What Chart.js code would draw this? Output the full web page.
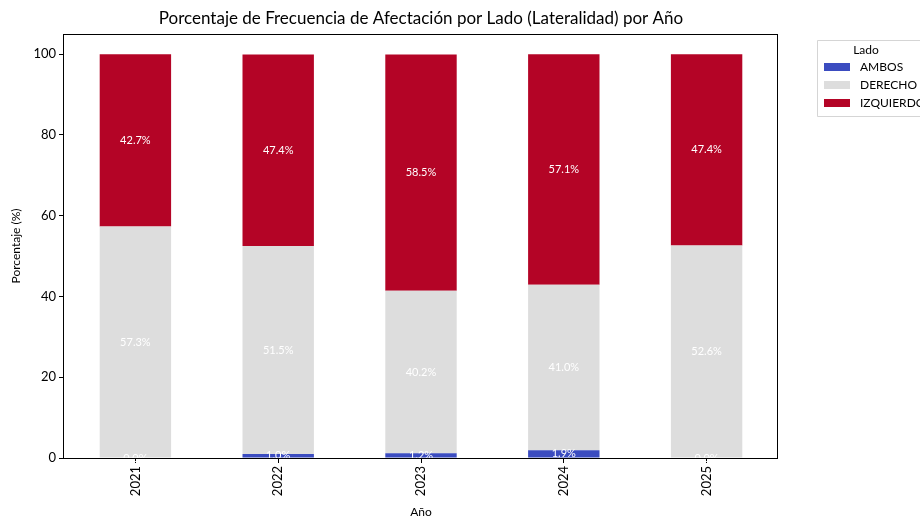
<!doctype html>
<html>
<head>
<meta charset="utf-8">
<script src="https://cdn.jsdelivr.net/npm/chart.js"></script>
<style>
html, body { margin: 0; padding: 0; background: #fff; }
#wrap { width: 920px; height: 521px; position: relative; }
</style>
</head>
<body>
<div id="wrap"><canvas id="myChart" width="920" height="521"></canvas></div>
<script>
	// datos
	var years = ['2021', '2022', '2023', '2024', '2025'];
	var ambos = [0.0, 1.0, 1.2, 1.9, 0.0];
	var derecho = [57.3, 51.5, 40.2, 41.0, 52.6];
	var izquierdo = [42.7, 47.4, 58.5, 57.1, 47.4];
	var yTicks = [0, 20, 40, 60, 80, 100];

	var FONT = "Lato, 'DejaVu Sans', sans-serif";

	// etiquetas de porcentaje en el centro de cada segmento
	var segLabels = {
		id: 'segLabels',
		afterDatasetsDraw: function (chart) {
			var c = chart.ctx;
			c.save();
			c.fillStyle = '#ffffff';
			c.font = '11px ' + FONT;
			c.textAlign = 'center';
			c.textBaseline = 'middle';
			chart.data.datasets.forEach(function (ds, i) {
				var meta = chart.getDatasetMeta(i);
				meta.data.forEach(function (bar, j) {
					var p = bar.getProps(['x', 'y', 'base'], true);
					c.fillText(ds.data[j].toFixed(1) + '%', p.x, (p.y + p.base) / 2);
				});
			});
			c.restore();
		}
	};

	// marco, titulo y leyenda estilo matplotlib
	var frame = {
		id: 'frame',
		afterDraw: function (chart) {
			var c = chart.ctx, a = chart.chartArea;
			c.save();
			c.strokeStyle = '#000';
			c.lineWidth = 1;
			c.strokeRect(Math.round(a.left) - 0.5, Math.round(a.top) + 0.5, Math.round(a.right - a.left), Math.round(a.bottom - a.top));

			c.fillStyle = '#000';
			c.font = '17px ' + FONT;
			c.textAlign = 'center';
			c.textBaseline = 'middle';
			c.fillText('Porcentaje de Frecuencia de Afectación por Lado (Lateralidad) por Año', (a.left + a.right) / 2, 19);

			// leyenda
			var lx = 817, ly = 40;
			c.fillStyle = '#fff';
			c.strokeStyle = '#d5d5d5';
			c.beginPath();
			c.rect(lx + 0.5, ly + 0.5, 140, 76);
			c.fill();
			c.stroke();
			c.fillStyle = '#000';
			c.font = '12px ' + FONT;
			c.textAlign = 'center';
			c.fillText('Lado', 866, 50);
			c.textAlign = 'left';
			chart.data.datasets.forEach(function (ds, i) {
				var yy = 67 + i * 18;
				c.fillStyle = ds.backgroundColor;
				c.fillRect(824, yy - 4, 26, 8);
				c.fillStyle = '#000';
				c.fillText(ds.label, 860, yy);
			});
			c.restore();
		}
	};

	new Chart(document.getElementById('myChart'), {
		type: 'bar',
		data: {
			labels: years,
			datasets: [
				{ label: 'AMBOS', data: ambos, backgroundColor: '#3b4cc0' },
				{ label: 'DERECHO', data: derecho, backgroundColor: '#dddddd' },
				{ label: 'IZQUIERDO', data: izquierdo, backgroundColor: '#b40426' }
			]
		},
		options: {
			responsive: false,
			animation: false,
			datasets: { bar: { categoryPercentage: 1.0, barPercentage: 0.5 } },
			layout: { padding: { top: 34, right: 142, left: 0, bottom: 0 } },
			plugins: {
				legend: { display: false },
				title: { display: false },
				tooltip: { enabled: false }
			},
			scales: {
				x: {
					stacked: true,
					grid: { offset: false, drawOnChartArea: false, drawTicks: true, tickLength: 5, color: '#000' },
					border: { display: false },
					ticks: { color: '#000', font: { family: FONT, size: 13 }, maxRotation: 90, minRotation: 90, padding: 3 },
					title: { display: true, text: 'Año', color: '#000', font: { family: FONT, size: 12 }, padding: { top: 0, bottom: 2 } },
					afterFit: function (s) { s.height = 63; }
				},
				y: {
					stacked: true,
					min: 0,
					max: 105,
					afterBuildTicks: function (s) { s.ticks = yTicks.map(function (v) { return { value: v }; }); },
					grid: { drawOnChartArea: false, drawTicks: true, tickLength: 5, color: '#000' },
					border: { display: false },
					ticks: { color: '#000', font: { family: FONT, size: 13 }, padding: 3 },
					title: { display: true, text: 'Porcentaje (%)', color: '#000', font: { family: FONT, size: 12 }, padding: { top: 9, bottom: 0 } },
					afterFit: function (s) { s.width = 64; }
				}
			}
		},
		plugins: [segLabels, frame]
	});
</script>
</body>
</html>
